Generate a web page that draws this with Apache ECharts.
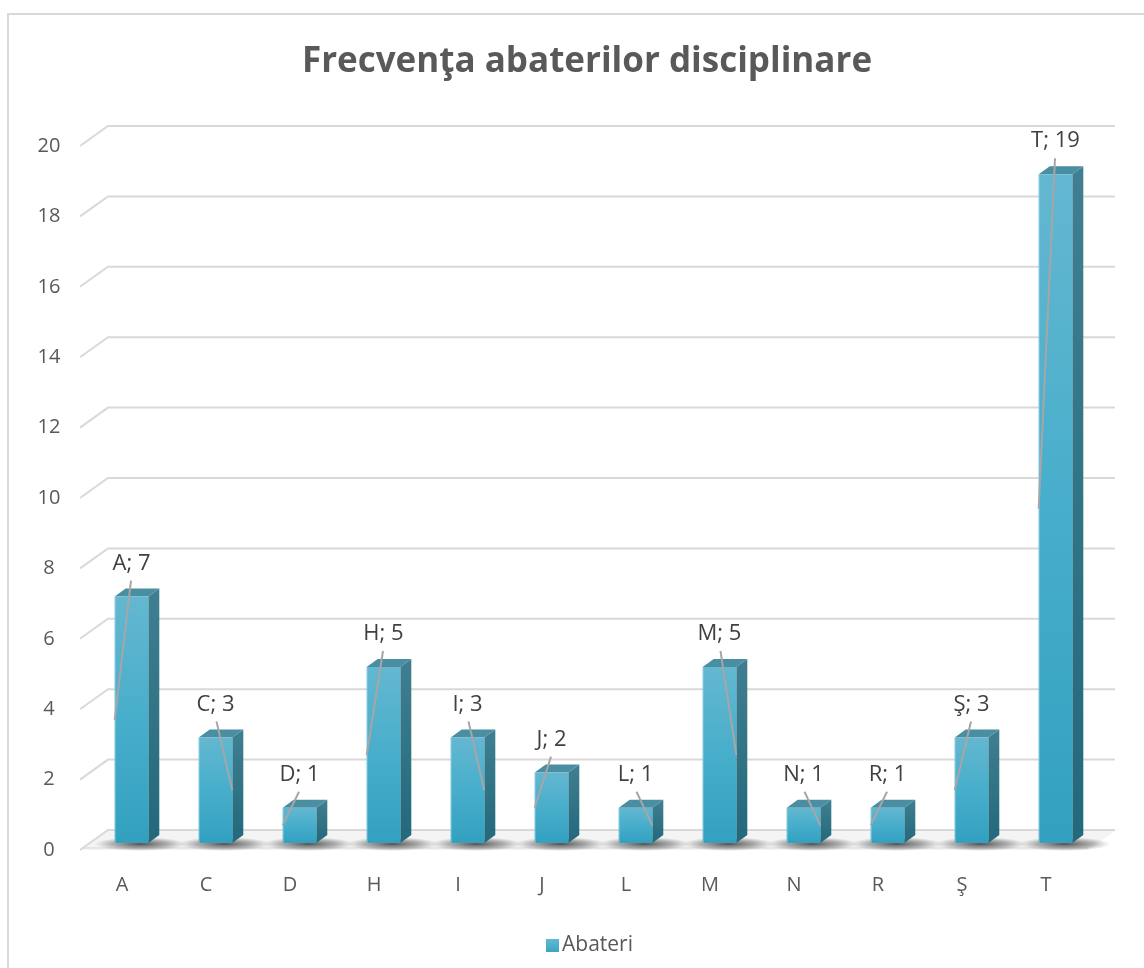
<!DOCTYPE html>
<html>
<head>
<meta charset="utf-8">
<script src="https://cdn.jsdelivr.net/npm/echarts@6/dist/echarts.min.js"></script>
<style>
  html, body { margin: 0; padding: 0; background: #fff; }
  #wrap { position: relative; width: 1144px; height: 968px; overflow: hidden; }
  #chart { width: 1144px; height: 968px; }
  #frame { position: absolute; left: 7px; top: 13px; width: 1200px; height: 1000px;
           border: 2px solid #d9d9d9; pointer-events: none; box-sizing: border-box; }
</style>
</head>
<body>
<div id="wrap"><div id="chart"></div><div id="frame"></div></div>
<script>
// ---- data ----
const categories = ['A', 'C', 'D', 'H', 'I', 'J', 'L', 'M', 'N', 'R', 'Ş', 'T'];
const values = [7, 3, 1, 5, 3, 2, 1, 5, 1, 1, 3, 19];
const yTicks = [0, 2, 4, 6, 8, 10, 12, 14, 16, 18, 20];
const seriesName = 'Abateri';
const titleText = 'Frecvenţa abaterilor disciplinare';
// which edge of the bar each leader line points to
const leaderSide = ['left', 'right', 'left', 'left', 'right', 'left', 'right', 'right', 'right', 'left', 'left', 'left'];

// ---- presentation ----
const FONT = '"Open Sans", Lato, sans-serif';
const TXT = '#404040';
const AX = '#595959';
const GRID = '#d9d9d9';
const BACK_DX = 28, BACK_DY = -20;   // back wall offset
const BAR_DX = 9.5, BAR_DY = -7;      // bar depth position
const SIDE_DX = 11, SIDE_DY = -8;     // bar depth

const frontGrad = new echarts.graphic.LinearGradient(0, 0, 0, 1, [
  { offset: 0, color: '#64b7d0' }, { offset: 0.5, color: '#47aecb' }, { offset: 1, color: '#33a0c0' }
]);
const sideGrad = new echarts.graphic.LinearGradient(0, 0, 0, 1, [
  { offset: 0, color: '#3f7f91' }, { offset: 1, color: '#22697b' }
]);
const legendGrad = new echarts.graphic.LinearGradient(0, 0, 0, 1, [
  { offset: 0, color: '#62b8d2' }, { offset: 1, color: '#3aa6c5' }
]);

const chart = echarts.init(document.getElementById('chart'), null, { renderer: 'canvas' });

function renderGrid(params, api) {
  const cs = params.coordSys;
  const v = api.value(1);
  const p = api.coord([0, v]);
  const y = p[1];
  const xl = cs.x, xr = cs.x + cs.width;
  const children = [];
  if (v === 0) {
    // floor
    children.push({
      type: 'polygon',
      shape: { points: [[xl, y], [xr, y], [xr + BACK_DX, y + BACK_DY], [xl + BACK_DX, y + BACK_DY]] },
      style: { fill: '#f4f4f4', stroke: null },
      z2: 0
    });
    children.push({
      type: 'line',
      shape: { x1: xl + 4, y1: y - 2, x2: xr, y2: y - 2 },
      style: { stroke: '#e6e6e6', lineWidth: 2 },
      z2: 1
    });
  }
  children.push({
    type: 'polyline',
    shape: { points: [[xl, y], [xl + BACK_DX, y + BACK_DY], [xr + BACK_DX - 1, y + BACK_DY]] },
    style: { stroke: GRID, lineWidth: 2, fill: null },
    z2: 2
  });
  return { type: 'group', children: children };
}

function renderBar(params, api) {
  const i = api.value(0), v = api.value(1);
  const base = api.coord([i, 0]);
  const top = api.coord([i, v]);
  const bw = api.size([1, 0])[0] * 0.4;
  const cx = base[0] + BAR_DX;
  const x0 = cx - bw / 2, x1 = cx + bw / 2;
  const yb = base[1] + BAR_DY, yt = top[1] + BAR_DY;
  const ly = yt - 33;
  const side = leaderSide[i];
  const endX = side === 'left' ? x0 : x1;
  const endY = (yt + yb) / 2;
  return {
    type: 'group',
    children: [
      { // floor shadow
        type: 'circle',
        shape: { cx: cx + 9, cy: yb + 1, r: 10 },
        scaleX: 4.6, scaleY: 0.7, originX: cx + 9, originY: yb + 1,
        style: { fill: new echarts.graphic.RadialGradient(0.5, 0.5, 0.5, [
          { offset: 0, color: 'rgba(40,40,40,0.8)' },
          { offset: 0.6, color: 'rgba(70,70,70,0.4)' },
          { offset: 1, color: 'rgba(100,100,100,0)' }
        ]) },
        z2: 3
      },
      {
        type: 'polygon',
        shape: { points: [[x1, yt], [x1 + SIDE_DX, yt + SIDE_DY], [x1 + SIDE_DX, yb + SIDE_DY], [x1, yb]] },
        style: { fill: sideGrad },
        z2: 5
      },
      {
        type: 'polygon',
        shape: { points: [[x0, yt], [x0 + SIDE_DX, yt + SIDE_DY], [x1 + SIDE_DX, yt + SIDE_DY], [x1, yt]] },
        style: { fill: '#4a8ea1' },
        z2: 5
      },
      {
        type: 'rect',
        shape: { x: x0, y: yt, width: bw, height: yb - yt },
        style: { fill: frontGrad },
        z2: 6
      },
      {
        type: 'line',
        shape: { x1: x0 + 0.5, y1: yt, x2: x0 + 0.5, y2: yb },
        style: { stroke: 'rgba(150,215,235,0.6)', lineWidth: 1 },
        z2: 7
      },
      {
        type: 'line',
        shape: { x1: cx + (side === 'left' ? -0.5 : 1), y1: ly + 17, x2: endX, y2: endY },
        style: { stroke: '#a6a6a6', lineWidth: 2 },
        z2: 8
      },
      {
        type: 'text',
        x: cx, y: ly,
        style: {
          text: categories[i] + '; ' + values[i],
          align: 'center', verticalAlign: 'middle',
          fill: TXT, font: '22px ' + FONT
        },
        z2: 9
      }
    ]
  };
}

const option = {
  animation: false,
  backgroundColor: '#ffffff',
  title: {
    text: titleText,
    left: 582, top: 40, textAlign: 'center',
    textStyle: { fontFamily: FONT, fontWeight: 'bold', fontSize: 35, color: AX }
  },
  legend: {
    data: [seriesName],
    left: 541, top: 930,
    icon: 'rect', itemWidth: 13, itemHeight: 13, itemGap: 10,
    textStyle: { fontFamily: FONT, fontSize: 21, color: AX, padding: [0, 0, 0, -2] }
  },
  grid: { left: 80, right: 56, top: 146, bottom: 118, containLabel: false },
  xAxis: {
    type: 'category',
    data: categories,
    axisLine: { show: false }, axisTick: { show: false },
    axisLabel: { margin: 25, fontFamily: FONT, fontSize: 20, color: AX },
    splitLine: { show: false }
  },
  yAxis: {
    type: 'value', min: 0, max: 20, interval: 2,
    axisLine: { show: false }, axisTick: { show: false },
    axisLabel: { margin: 31, align: 'center', fontFamily: FONT, fontSize: 20, color: AX },
    splitLine: { show: false }
  },
  series: [
    {
      type: 'custom',
      name: 'grid',
      renderItem: renderGrid,
      data: yTicks.map(function (t) { return [0, t]; }),
      clip: false, silent: true, z: 1
    },
    {
      type: 'custom',
      name: seriesName,
      renderItem: renderBar,
      itemStyle: { color: legendGrad },
      data: values.map(function (v, i) { return [i, v]; }),
      encode: { x: 0, y: 1 },
      clip: false, z: 5
    }
  ]
};
chart.setOption(option);
</script>
</body>
</html>
